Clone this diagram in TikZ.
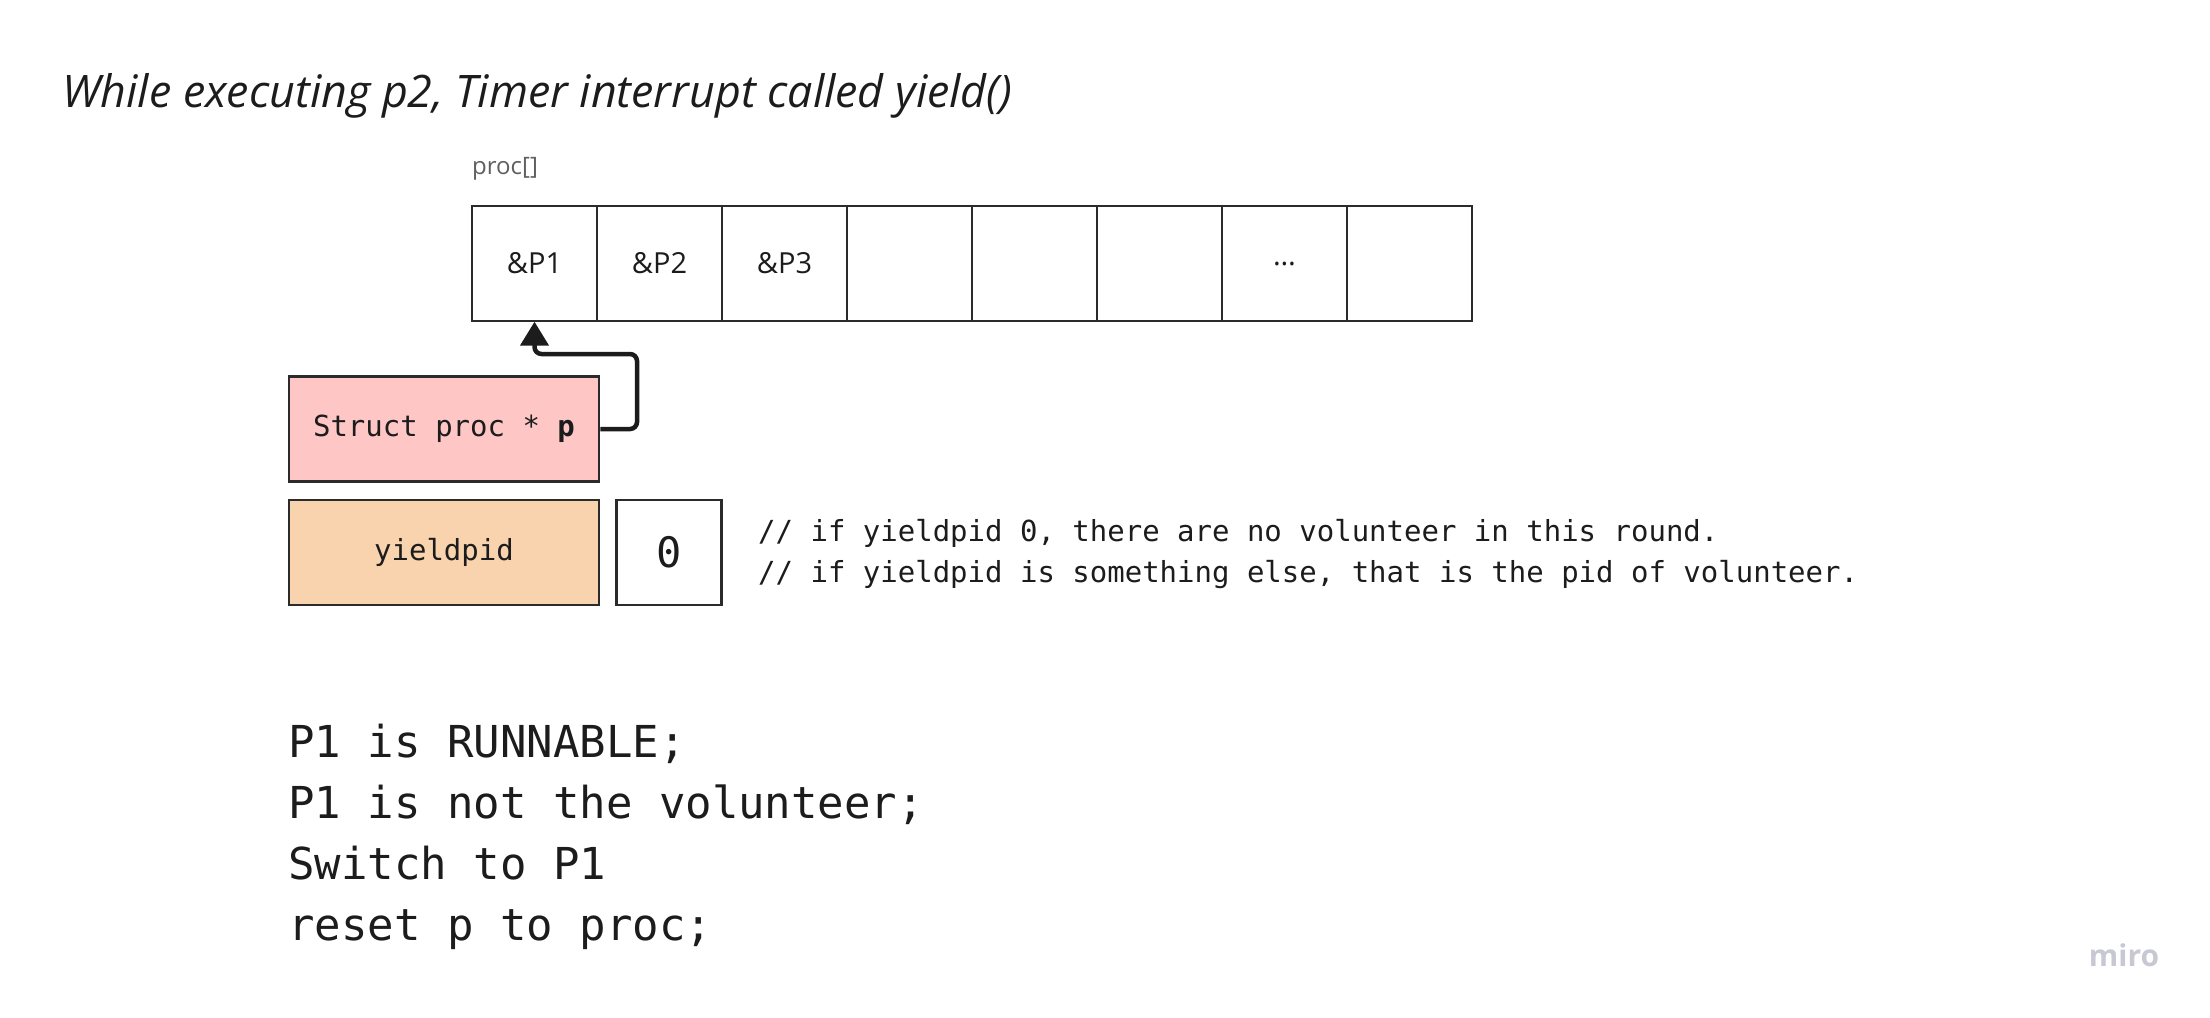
\documentclass[tikz,border=0pt]{standalone}
\usepackage{fontspec}
\setmainfont{Open Sans}
\setmonofont{DejaVu Sans Mono}
\usetikzlibrary{positioning, arrows.meta}

\definecolor{pinkfill}{HTML}{FFC6C6}
\definecolor{peachfill}{HTML}{F8D3AE}
\definecolor{boxline}{HTML}{2B2B2B}
\definecolor{inkgray}{HTML}{1C1C1C}
\definecolor{labelgray}{HTML}{5F5F5F}
\definecolor{logogray}{HTML}{C8C8D4}

\begin{document}
\begin{tikzpicture}[x=1pt, y=-1pt,
    cell/.style={draw=boxline, line width=1.4pt, minimum width=125pt, minimum height=115pt, inner sep=0pt, font=\fontsize{29}{35}\selectfont, text=inkgray},
    varbox/.style={draw=boxline, line width=2.6pt, minimum width=310pt, minimum height=105pt, inner sep=0pt, font=\ttfamily\fontsize{29}{35}\selectfont, text=inkgray},
    ptr/.style={line width=4.5pt, draw=inkgray, rounded corners=7pt, -{Triangle[width=28pt,length=24pt]}}]
        \useasboundingbox (0,0) rectangle (2210,1017);
        \node[anchor=base west, font=\itshape\fontsize{44.8}{52}\selectfont, text=inkgray] (title) at (59,107) {While executing p2, Timer interrupt called yield()};
        % the proc[] array
        \foreach \i/\txt in {1/\&P1, 2/\&P2, 3/\&P3, 4/, 5/, 6/, 7/…, 8/}
            \node[cell] (c\i) at ({534.5+125*(\i-1)},263.5) {\txt};
        \node[anchor=base west, font=\fontsize{24}{29}\selectfont, text=labelgray, inner sep=0pt] (arrlabel) at (472,174) {proc[]};
        % variables
        \node[varbox, fill=pinkfill] (sp) at (444,429) {Struct proc * \textbf{p}};
        \node[varbox, fill=peachfill, below=16pt of sp] (yp) {yieldpid};
        \node[varbox, minimum width=105pt, right=15pt of yp, font=\ttfamily\fontsize{42}{50}\selectfont] (yv) {0};
        \coordinate (turn) at (637,354);
        \draw[ptr] (sp.east) -| (turn) -| (c1.south);
        % base anchor sits on the last line
        \node[anchor=base west, align=left, inner sep=0pt, font=\ttfamily\fontsize{29}{41}\selectfont, text=inkgray] (note) at (758,582)
            {// if yieldpid 0, there are no volunteer in this round.\\// if yieldpid is something else, that is the pid of volunteer.};
        \node[anchor=base west, align=left, inner sep=0pt, font=\ttfamily\fontsize{44}{61}\selectfont, text=inkgray] (steps) at (288,940)
            {P1 is RUNNABLE;\\P1 is not the volunteer;\\Switch to P1\\reset p to proc;};
        \node[font=\bfseries\fontsize{30}{36}\selectfont, text=logogray] (logo) at (2124,955) {miro};
    \end{tikzpicture}
\end{document}
